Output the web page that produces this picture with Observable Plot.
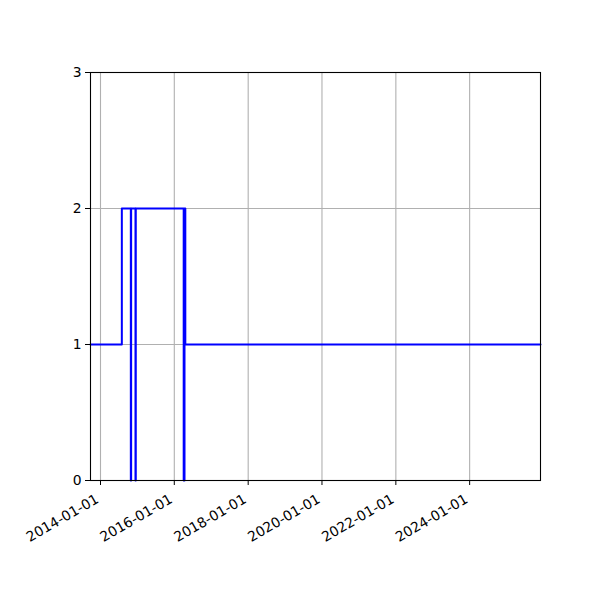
<!DOCTYPE html>
<html>
<head>
<meta charset="utf-8">
<script src="https://cdn.jsdelivr.net/npm/d3@7"></script>
<script src="https://cdn.jsdelivr.net/npm/@observablehq/plot@0.6"></script>
<style>
  html, body { margin: 0; padding: 0; background: white; }
  #chart { width: 600px; height: 600px; }
</style>
</head>
<body>
<div id="chart"></div>
<script>
// Step series (step-after): change dates and the value that holds from each date on
const dates = ["2013-09-24", "2014-07-31", "2014-10-28", "2014-10-31", "2014-12-13", "2014-12-16", "2016-04-03", "2016-04-11", "2016-04-19", "2025-12-02"];
const values = [1, 2, 0, 2, 0, 2, 0, 2, 1, 1];
const xTickLabels = ["2014-01-01", "2016-01-01", "2018-01-01", "2020-01-01", "2022-01-01", "2024-01-01"];
const yTicks = [0, 1, 2, 3];
const xDomain = ["2013-09-24", "2025-12-02"];

const parse = d3.utcParse("%Y-%m-%d");
const data = dates.map((d, i) => ({date: parse(d), value: values[i]}));
const xTicks = xTickLabels.map(parse);

const chart = Plot.plot({
  width: 600,
  height: 600,
  marginLeft: 90,
  marginRight: 60,
  marginTop: 72,
  marginBottom: 120,
  style: {fontFamily: "DejaVu Sans, sans-serif", fontSize: "13.9px", color: "black", background: "white"},
  x: {type: "utc", domain: xDomain.map(parse)},
  y: {domain: [0, 3]},
  marks: [
    Plot.gridY(yTicks, {stroke: "#b0b0b0", strokeOpacity: 1, strokeWidth: 1.1}),
    Plot.gridX(xTicks, {stroke: "#b0b0b0", strokeOpacity: 1, strokeWidth: 1.1}),
    Plot.lineY(data, {x: "date", y: "value", curve: "step-after", stroke: "#0000ff", strokeWidth: 2}),
    Plot.frame({stroke: "black", strokeWidth: 1.1}),
    Plot.axisY(yTicks, {tickSize: 5, tickPadding: 4, label: null, tickFormat: d => String(d)}),
    Plot.axisX(xTicks, {tickSize: 5, label: null, tickFormat: () => ""}),
    Plot.axisX(xTicks, {tickSize: 0, dx: -3, dy: 5, label: null, tickRotate: -30, tickFormat: d3.utcFormat("%Y-%m-%d")})
  ]
});
document.getElementById("chart").appendChild(chart);
</script>
</body>
</html>
